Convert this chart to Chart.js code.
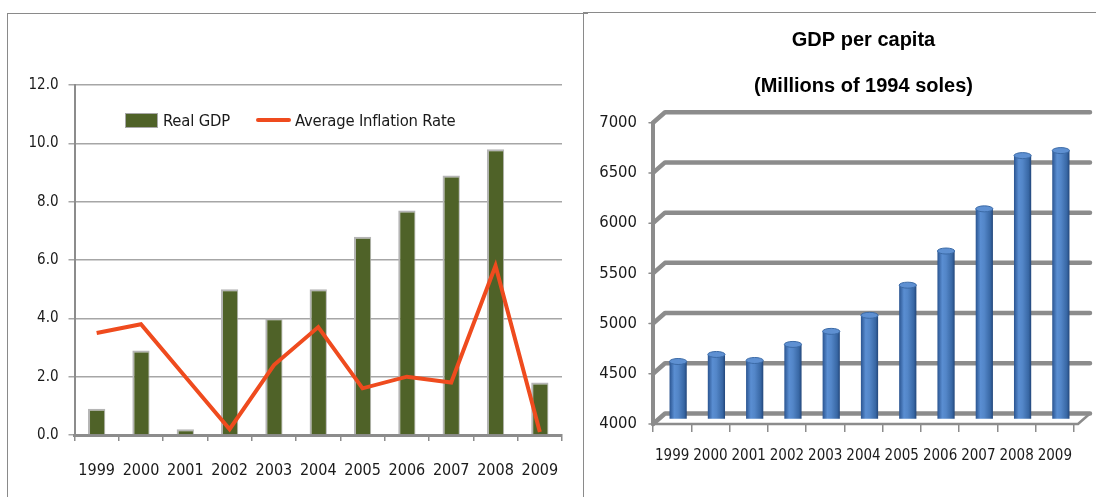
<!DOCTYPE html>
<html>
<head>
<meta charset="utf-8">
<script src="https://cdn.jsdelivr.net/npm/chart.js@4.4.1/dist/chart.umd.min.js"></script>
<style>
  body { margin: 0; background: #fff; width: 1096px; height: 497px; overflow: hidden; position: relative; }
  .panel { position: absolute; border-top: 1px solid #8a8a8a; border-left: 1px solid #8a8a8a; }
  canvas { position: absolute; }
  .legend { position: absolute; left: 125px; top: 109px; height: 22px; display: flex; align-items: center;
            font-family: 'DejaVu Sans Condensed', 'Liberation Sans Narrow', sans-serif; font-size: 16.5px; color: #1a1a1a; letter-spacing: -0.2px; }
  .legend .box { width: 31px; height: 13px; background: #4F6228; border: 1px solid #a8a8a8; margin-right: 5px; }
  .legend .line { width: 35px; height: 4px; background: #EF4B1E; border-radius: 2px; margin-left: 26px; margin-right: 4px; }
</style>
</head>
<body>
<div class="panel" style="left:7px; top:13px; width:580px; height:490px;"></div>
<div class="panel" style="left:583px; top:12px; width:520px; height:490px;"></div>

<canvas id="growthChart" width="574" height="483" style="left:8px; top:14px;"></canvas>
<div class="legend">
  <span class="box"></span><span>Real GDP</span>
  <span class="line"></span><span>Average Inflation Rate</span>
</div>

<canvas id="perCapitaChart" width="512" height="483" style="left:584px; top:14px;"></canvas>

<script>
// values
const years = ["1999", "2000", "2001", "2002", "2003", "2004", "2005", "2006", "2007", "2008", "2009"];
const realGdp = [0.9, 2.9, 0.2, 5.0, 4.0, 5.0, 6.8, 7.7, 8.9, 9.8, 1.8];
const inflationRate = [3.5, 3.8, 2.0, 0.2, 2.4, 3.7, 1.6, 2.0, 1.8, 5.8, 0.1];
const gdpPerCapita = [4570, 4640, 4580, 4740, 4870, 5030, 5330, 5670, 6090, 6620, 6670];
const growthTicks = [0, 2, 4, 6, 8, 10, 12];
const perCapitaTicks = [4000, 4500, 5000, 5500, 6000, 6500, 7000];

const narrowFont = "'DejaVu Sans Condensed', 'Liberation Sans Narrow', sans-serif";
const axisGrey = "#8c8c8c";
const BAR_PCT = 0.45;

// ---------- left chart: growth vs inflation ----------
new Chart(document.getElementById("growthChart"), {
  data: {
    labels: years,
    datasets: [
      {
        type: "line",
        label: "Average Inflation Rate",
        data: inflationRate,
        borderColor: "#EF4B1E",
        borderWidth: 4,
        pointRadius: 0,
        tension: 0,
        order: 0,
      },
      {
        type: "bar",
        label: "Real GDP",
        data: realGdp,
        backgroundColor: "#4F6228",
        borderColor: "#b5b5b5",
        borderWidth: { top: 2, left: 2, right: 1, bottom: 0 },
        barPercentage: 0.39,
        categoryPercentage: 1,
        order: 1,
      },
    ],
  },
  options: {
    responsive: false,
    animation: false,
    layout: { padding: { top: 71, right: 20, left: 0, bottom: 0 } },
    plugins: { legend: { display: false }, tooltip: { enabled: false } },
    scales: {
      x: {
        offset: true,
        grid: { drawOnChartArea: false, offset: true, tickLength: 6, color: axisGrey, lineWidth: 1.5 },
        border: { color: axisGrey, width: 3 },
        ticks: { padding: 20, maxRotation: 0, autoSkip: false, color: "#1a1a1a", font: { family: narrowFont, size: 16 } },
        afterFit: function (scale) { scale.height = 62; },
      },
      y: {
        min: 0,
        max: 12,
        afterBuildTicks: function (scale) { scale.ticks = growthTicks.map((v) => ({ value: v })); },
        ticks: {
          padding: 10,
          color: "#1a1a1a",
          font: { family: narrowFont, size: 15 },
          callback: (v) => Number(v).toFixed(1),
        },
        grid: { color: "#a6a6a6", lineWidth: 1.5, tickLength: 6 },
        border: { color: axisGrey, width: 2 },
        afterFit: function (scale) { scale.width = 66.5; },
      },
    },
  },
});

// ---------- right chart: GDP per capita, cylinder bars ----------
function cylinderGradient(ctx, cx, half) {
  const g = ctx.createLinearGradient(cx - half, 0, cx + half, 0);
  g.addColorStop(0, "#2a5490");
  g.addColorStop(0.28, "#5a8ed2");
  g.addColorStop(0.5, "#5386c8");
  g.addColorStop(0.85, "#3867a4");
  g.addColorStop(1, "#22467a");
  return g;
}

function cylinderFill(context) {
  const chart = context.chart;
  if (!chart.chartArea || context.type !== "data") return "#4F81BD";
  const xs = chart.scales.x;
  const cx = xs.getPixelForValue(context.dataIndex);
  const half = (xs.width / years.length) * BAR_PCT / 2;
  return cylinderGradient(chart.ctx, cx, half);
}

const DEPTH_X = 12;
const DEPTH_Y = 10.5;

const wall3d = {
  id: "wall3d",
  beforeDatasetsDraw(chart) {
    const { ctx, chartArea: a, scales: { y } } = chart;
    ctx.save();
    ctx.strokeStyle = axisGrey;
    ctx.lineJoin = "round";
    ctx.lineCap = "round";

    // back wall gridlines with their slanted side edge
    ctx.lineWidth = 4.5;
    y.ticks.forEach((t) => {
      const py = y.getPixelForValue(t.value);
      ctx.beginPath();
      ctx.moveTo(a.left, py);
      ctx.lineTo(a.left + DEPTH_X, py - DEPTH_Y);
      ctx.lineTo(a.right + DEPTH_X + 4, py - DEPTH_Y);
      ctx.stroke();
    });

    // floor front edge + right side
    ctx.lineWidth = 2.5;
    ctx.beginPath();
    ctx.moveTo(a.left, a.bottom);
    ctx.lineTo(a.right + 4, a.bottom);
    ctx.lineTo(a.right + DEPTH_X + 4, a.bottom - DEPTH_Y);
    ctx.stroke();

    // front vertical axis with small ticks
    ctx.lineWidth = 4;
    ctx.beginPath();
    ctx.moveTo(a.left, a.top);
    ctx.lineTo(a.left, a.bottom);
    ctx.stroke();
    ctx.lineWidth = 1.5;
    y.ticks.forEach((t) => {
      const py = y.getPixelForValue(t.value);
      ctx.beginPath();
      ctx.moveTo(a.left - 4, py);
      ctx.lineTo(a.left, py);
      ctx.stroke();
    });
    ctx.restore();

    // bars stand half way into the depth
    ctx.save();
    ctx.translate(DEPTH_X / 2, -DEPTH_Y / 2);
  },
  afterDatasetsDraw(chart) {
    const ctx = chart.ctx;
    chart.getDatasetMeta(0).data.forEach((bar) => {
      const rx = bar.width / 2;
      const ry = 3;
      // rounded bottom
      ctx.fillStyle = cylinderGradient(ctx, bar.x, rx);
      ctx.beginPath();
      ctx.ellipse(bar.x, bar.base, rx, ry, 0, 0, Math.PI);
      ctx.fill();
      // top cap
      ctx.fillStyle = "#5e90d2";
      ctx.strokeStyle = "#3b6aa6";
      ctx.lineWidth = 1;
      ctx.beginPath();
      ctx.ellipse(bar.x, bar.y, rx, ry, 0, 0, Math.PI * 2);
      ctx.fill();
      ctx.stroke();
    });
    ctx.restore();
  },
};

new Chart(document.getElementById("perCapitaChart"), {
  type: "bar",
  data: {
    labels: years,
    datasets: [
      {
        label: "GDP per capita",
        data: gdpPerCapita,
        backgroundColor: cylinderFill,
        borderWidth: 0,
        barPercentage: BAR_PCT,
        categoryPercentage: 1,
      },
    ],
  },
  options: {
    responsive: false,
    animation: false,
    layout: { padding: { top: 0, right: 22, left: 0, bottom: 0 } },
    plugins: {
      legend: { display: false },
      tooltip: { enabled: false },
      title: {
        display: true,
        fullSize: false,
        text: ["GDP per capita", "(Millions of 1994 soles)"],
        color: "#000",
        font: { family: "'Liberation Sans', Arial, sans-serif", size: 20, weight: "bold", lineHeight: 2.3 },
        padding: { top: 3, bottom: 13.7 },
      },
    },
    scales: {
      x: {
        offset: true,
        grid: { drawOnChartArea: false, offset: true, tickLength: 8, color: axisGrey, lineWidth: 1.5 },
        border: { display: false },
        ticks: { padding: 15, maxRotation: 0, autoSkip: false, color: "#1a1a1a", font: { family: narrowFont, size: 15 } },
        afterFit: function (scale) { scale.height = 73; },
      },
      y: {
        min: 4000,
        max: 7000,
        afterBuildTicks: function (scale) { scale.ticks = perCapitaTicks.map((v) => ({ value: v })); },
        grid: { display: false },
        border: { display: false },
        ticks: { padding: 8, color: "#1a1a1a", font: { family: narrowFont, size: 16.5 }, callback: (v) => String(v) },
        afterFit: function (scale) { scale.width = 69; },
      },
    },
  },
  plugins: [wall3d],
});
</script>
</body>
</html>
